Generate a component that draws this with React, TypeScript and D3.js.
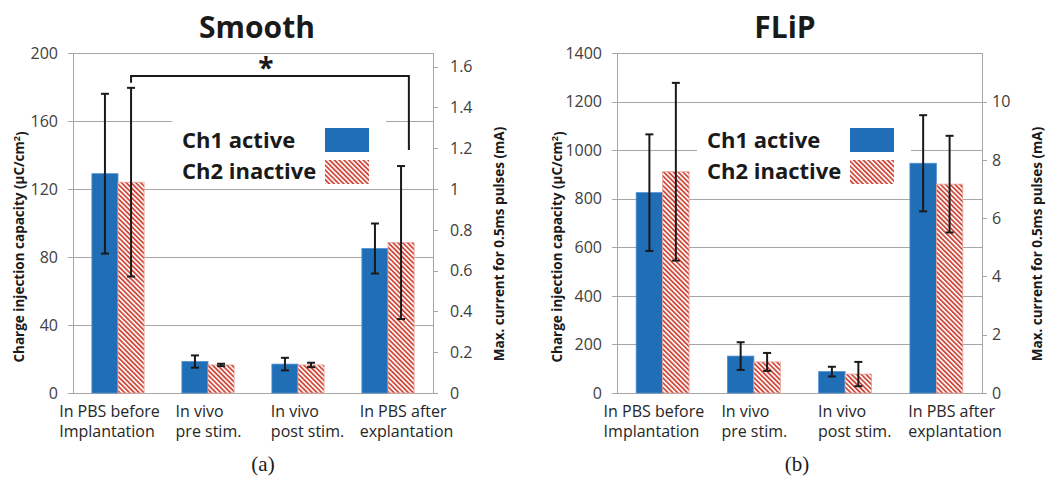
import React, { useEffect, useRef } from 'react';
import * as d3 from 'd3';

// categories (two-line labels) and series
const categories = [
  ['In PBS before', 'Implantation'],
  ['In vivo', 'pre stim.'],
  ['In vivo', 'post stim.'],
  ['In PBS after', 'explantation'],
];
const seriesNames = ['Ch1 active', 'Ch2 inactive'];

// Smooth electrodes (µC/cm²)
const smoothCh1 = [129, 18.5, 17, 85];
const smoothCh1Err = [47, 3.6, 3.7, 14.7];
const smoothCh2 = [124, 16.5, 16.5, 88.5];
const smoothCh2Err = [55.5, 0.7, 1.3, 45];

// FLiP electrodes (µC/cm²)
const flipCh1 = [825, 152, 88, 946];
const flipCh1Err = [240, 57, 20, 198];
const flipCh2 = [911, 128, 78, 860];
const flipCh2Err = [366, 37, 50, 199];

// axis ticks
const smoothLeftTicks = [0, 40, 80, 120, 160, 200];
const smoothRightTicks = [0, 0.2, 0.4, 0.6, 0.8, 1, 1.2, 1.4, 1.6];
const flipLeftTicks = [0, 200, 400, 600, 800, 1000, 1200, 1400];
const flipRightTicks = [0, 2, 4, 6, 8, 10];

// right axis = left axis / 120 (current for 0.5ms pulses)
const currentFactor = 120;

// significance bracket, Smooth panel: Ch2 before implantation vs after explantation
const smoothSig = { from: 0, to: 3, level: 186.5, leftEnd: 182.5, rightEnd: 143, label: '*' };

const BLUE = '#1f6eb6';
const RED = '#d04a3c';
const GRID = '#a6a6a6';
const FONT = '"Open Sans", Calibri, sans-serif';

const panels = [
  {
    id: 'smooth', title: 'Smooth', titleX: 257, caption: '(a)', captionX: 263,
    x0: 73, x1: 433, yMax: 200, leftTicks: smoothLeftTicks, rightTicks: smoothRightTicks,
    ch1: smoothCh1, ch1Err: smoothCh1Err, ch2: smoothCh2, ch2Err: smoothCh2Err,
    legendX: 172, leftTitleX: 19, rightTitleX: 499, rightGap: 17, sig: smoothSig,
  },
  {
    id: 'flip', title: 'FLiP', titleX: 785, caption: '(b)', captionX: 797,
    x0: 617, x1: 982, yMax: 1400, leftTicks: flipLeftTicks, rightTicks: flipRightTicks,
    ch1: flipCh1, ch1Err: flipCh1Err, ch2: flipCh2, ch2Err: flipCh2Err,
    legendX: 697, leftTitleX: 557, rightTitleX: 1037, rightGap: 10, sig: null,
  },
];

const App = () => {
  const svgRef = useRef<SVGSVGElement>(null);

  useEffect(() => {
    const svg = d3.select(svgRef.current);
    svg.selectAll('*').remove();

    const defs = svg.append('defs');
    const pat = defs
      .append('pattern')
      .attr('id', 'hatch')
      .attr('patternUnits', 'userSpaceOnUse')
      .attr('width', 3.4)
      .attr('height', 3.4)
      .attr('patternTransform', 'rotate(-45)');
    pat.append('rect').attr('width', 3.4).attr('height', 3.4).attr('fill', '#fff');
    pat.append('rect').attr('width', 1.8).attr('height', 3.4).attr('fill', RED);

    const yTop = 53;
    const yBottom = 393;

    panels.forEach((p) => {
      const g = svg.append('g');
      const y = d3.scaleLinear().domain([0, p.yMax]).range([yBottom, yTop]);
      const yR = d3.scaleLinear().domain([0, p.yMax / currentFactor]).range([yBottom, yTop]);
      const x = d3
        .scaleBand<number>()
        .domain(d3.range(categories.length))
        .range([p.x0, p.x1])
        .paddingInner(0.42)
        .paddingOuter(0.21);
      const xs = d3.scaleBand<number>().domain([0, 1]).range([0, x.bandwidth()]);

      // gridlines (with short ticks on the left)
      g.selectAll('.grid')
        .data(p.leftTicks)
        .join('line')
        .attr('x1', p.x0 - 5)
        .attr('x2', p.x1)
        .attr('y1', (d) => Math.round(y(d)) + 0.5)
        .attr('y2', (d) => Math.round(y(d)) + 0.5)
        .attr('stroke', GRID);

      // axis lines
      [p.x0, p.x1].forEach((xx) => {
        g.append('line')
          .attr('x1', xx + 0.5).attr('x2', xx + 0.5)
          .attr('y1', yTop).attr('y2', yBottom)
          .attr('stroke', GRID);
      });

      // left tick labels
      g.selectAll('.ltick')
        .data(p.leftTicks)
        .join('text')
        .attr('x', p.x0 - 15)
        .attr('y', (d) => y(d))
        .attr('dy', '0.36em')
        .attr('text-anchor', 'end')
        .attr('font-family', FONT)
        .attr('font-size', 16)
        .attr('fill', '#404040')
        .text((d) => d);

      // right ticks + labels
      g.selectAll('.rtickmark')
        .data(p.rightTicks)
        .join('line')
        .attr('x1', p.x1)
        .attr('x2', p.x1 + 5)
        .attr('y1', (d) => Math.round(yR(d)) + 0.5)
        .attr('y2', (d) => Math.round(yR(d)) + 0.5)
        .attr('stroke', GRID);
      g.selectAll('.rtick')
        .data(p.rightTicks)
        .join('text')
        .attr('x', p.x1 + p.rightGap)
        .attr('y', (d) => yR(d))
        .attr('dy', '0.36em')
        .attr('font-family', FONT)
        .attr('font-size', 16)
        .attr('fill', '#404040')
        .text((d) => String(d));

      // axis titles
      const leftT = g.append('text')
        .attr('transform', `translate(${p.leftTitleX},247) rotate(-90)`)
        .attr('text-anchor', 'middle')
        .attr('dy', '0.35em')
        .attr('font-family', FONT)
        .attr('font-weight', 'bold')
        .attr('font-size', 13.5)
        .attr('fill', '#1a1a1a');
      leftT.append('tspan').text('Charge injection capacity (µC/cm');
      leftT.append('tspan').attr('dy', '-0.4em').attr('font-size', 9).text('2');
      leftT.append('tspan').attr('dy', '0.4em').text(')');

      g.append('text')
        .attr('transform', `translate(${p.rightTitleX},244) rotate(-90)`)
        .attr('text-anchor', 'middle')
        .attr('dy', '0.35em')
        .attr('font-family', FONT)
        .attr('font-weight', 'bold')
        .attr('font-size', 13.5)
        .attr('fill', '#1a1a1a')
        .text('Max. current for 0.5ms pulses (mA)');

      // legend box (white, covers gridlines)
      g.append('rect')
        .attr('x', p.legendX)
        .attr('y', 106)
        .attr('width', 214)
        .attr('height', 82)
        .attr('fill', '#fff');

      // bars
      const series = [
        { vals: p.ch1, errs: p.ch1Err, fill: BLUE, stroke: '#4f8fd0' },
        { vals: p.ch2, errs: p.ch2Err, fill: 'url(#hatch)', stroke: '#e8a39b' },
      ];
      series.forEach((s, si) => {
        g.selectAll(`.bar${si}`)
          .data(s.vals)
          .join('rect')
          .attr('x', (_, i) => (x(i) as number) + (xs(si) as number))
          .attr('y', (d) => y(d))
          .attr('width', xs.bandwidth())
          .attr('height', (d) => yBottom - y(d))
          .attr('fill', s.fill)
          .attr('stroke', s.stroke)
          .attr('stroke-width', 0.8);
      });

      // error bars
      series.forEach((s, si) => {
        s.vals.forEach((v, i) => {
          const cx = (x(i) as number) + (xs(si) as number) + xs.bandwidth() / 2;
          const hi = y(v + s.errs[i]);
          const lo = y(v - s.errs[i]);
          const eg = g.append('g').attr('stroke', '#1a1a1a').attr('stroke-width', 2);
          eg.append('line').attr('x1', cx).attr('x2', cx).attr('y1', hi).attr('y2', lo);
          eg.append('line').attr('x1', cx - 4).attr('x2', cx + 4).attr('y1', hi).attr('y2', hi);
          eg.append('line').attr('x1', cx - 4).attr('x2', cx + 4).attr('y1', lo).attr('y2', lo);
        });
      });

      // legend
      seriesNames.forEach((name, si) => {
        g.append('text')
          .attr('x', p.legendX + 10)
          .attr('y', si === 0 ? 148 : 179)
          .attr('font-family', FONT)
          .attr('font-weight', 'bold')
          .attr('font-size', 22)
          .attr('fill', '#1a1a1a')
          .text(name);
        g.append('rect')
          .attr('x', p.legendX + 153)
          .attr('y', si === 0 ? 128 : 160)
          .attr('width', 44)
          .attr('height', 24)
          .attr('fill', si === 0 ? BLUE : 'url(#hatch)');
      });

      // significance bracket
      if (p.sig) {
        const sg = p.sig;
        const lx = (x(sg.from) as number) + (xs(1) as number) + xs.bandwidth() / 2;
        const rx = (x(sg.to) as number) + (xs(1) as number) + xs.bandwidth() * 0.8;
        const ly = y(sg.level);
        g.append('path')
          .attr('d', `M${lx},${y(sg.leftEnd)}V${ly}H${rx}V${y(sg.rightEnd)}`)
          .attr('fill', 'none')
          .attr('stroke', '#1a1a1a')
          .attr('stroke-width', 2);
        g.append('text')
          .attr('x', (lx + rx) / 2 - 4)
          .attr('y', ly + 2)
          .attr('text-anchor', 'middle')
          .attr('font-family', FONT)
          .attr('font-weight', 'bold')
          .attr('font-size', 28)
          .attr('fill', '#1a1a1a')
          .text(sg.label);
      }

      // category labels: two-line blocks, left-aligned, spread a little wider than the groups
      const mid = (p.x0 + p.x1) / 2;
      categories.forEach((lines, i) => {
        const t = g.append('text')
          .attr('font-family', FONT)
          .attr('font-size', 16)
          .attr('fill', '#262626');
        lines.forEach((ln, li) => {
          t.append('tspan').attr('x', 0).attr('y', 417 + li * 20).text(ln);
        });
        const w = (t.node() as SVGTextElement).getBBox().width;
        const gc = (x(i) as number) + x.bandwidth() / 2;
        const cx = mid + 5 + (gc - mid) * 1.1;
        t.attr('transform', `translate(${cx - w / 2},0)`);
      });

      // title + caption
      g.append('text')
        .attr('x', p.titleX)
        .attr('y', 38)
        .attr('text-anchor', 'middle')
        .attr('font-family', FONT)
        .attr('font-weight', 'bold')
        .attr('font-size', 30)
        .attr('fill', '#1a1a1a')
        .text(p.title);
      g.append('text')
        .attr('x', p.captionX)
        .attr('y', 471)
        .attr('text-anchor', 'middle')
        .attr('font-family', '"Liberation Serif", "Times New Roman", serif')
        .attr('font-size', 21)
        .attr('fill', '#1a1a1a')
        .text(p.caption);
    });
  }, []);

  return (
    <svg
      ref={svgRef}
      width={1049}
      height={477}
      style={{ position: 'absolute', left: 0, top: 0, background: '#fff' }}
    />
  );
};

export default App;
